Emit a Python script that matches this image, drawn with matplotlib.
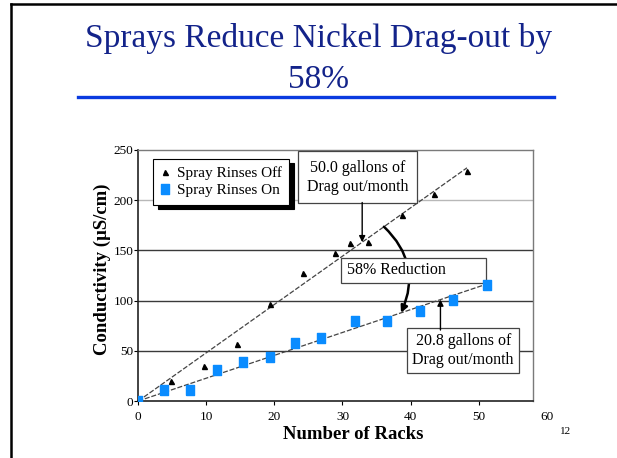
import numpy as np
import matplotlib
matplotlib.use('Agg')
import matplotlib.pyplot as plt
from matplotlib.lines import Line2D
from matplotlib.patches import Rectangle, FancyArrowPatch
import matplotlib.transforms as mtransforms

# ---------------- data ----------------
title_lines = ["Sprays Reduce Nickel Drag-out by", "58%"]
racks_off = [0, 4.8, 9.7, 14.5, 19.3, 24.2, 28.9, 31.1, 33.8, 38.7, 43.5, 48.3]
cond_off = [0, 20, 35, 57, 97, 127, 147, 157, 158, 185, 206, 229]
racks_on = [0, 3.8, 7.6, 11.5, 15.4, 19.3, 23.0, 26.9, 31.8, 36.6, 41.4, 46.2, 51.2]
cond_on = [0, 11, 11, 31, 39, 44, 58, 63, 80, 80, 90, 101, 116]
xticks = [0, 10, 20, 30, 40, 50]
extra_xtick = 60
yticks = [0, 50, 100, 150, 200, 250]
label_off = "Spray Rinses Off"
label_on = "Spray Rinses On"
note_off = "50.0 gallons of\nDrag out/month"
note_on = "20.8 gallons of\nDrag out/month"
note_red = "58% Reduction"
xlabel = "Number of Racks"
ylabel = "Conductivity (µS/cm)"
page_no = "12"

# ---------------- style ----------------
plt.rcParams['font.family'] = ['Liberation Serif', 'DejaVu Serif']
W, H = 617, 458
fig = plt.figure(figsize=(W / 100, H / 100), dpi=100)


def fx(px):
    return px / W


def fy(py):
    return 1 - py / H


# slide frame (left + top lines)
fig.add_artist(Line2D([fx(11), fx(11)], [0, fy(4)], transform=fig.transFigure,
                      color='black', lw=1.8))
fig.add_artist(Line2D([fx(11), 1], [fy(4), fy(4)], transform=fig.transFigure,
                      color='black', lw=1.8))

# title
title_color = '#13238a'
fig.text(fx(319), fy(47), title_lines[0], ha='center', va='baseline',
         fontsize=24, color=title_color)
fig.text(fx(319), fy(88), title_lines[1], ha='center', va='baseline',
         fontsize=24, color=title_color)
fig.add_artist(Line2D([fx(78), fx(554)], [fy(97), fy(97)], transform=fig.transFigure,
                      color='#0a3be0', lw=2.4))

# axes
ax = fig.add_axes([fx(138.3), fy(401), fx(533) - fx(138.3), fy(150) - fy(401)])
ax.set_xlim(0, 58)
ax.set_ylim(0, 250)
ax.set_xticks(xticks)
ax.set_yticks(yticks)
ax.tick_params(axis='both', direction='out', length=3, width=0.8, labelsize=9.5,
               colors='black')
ax.tick_params(axis='y', pad=0.5)
ax.tick_params(axis='x', pad=4)
for s in ['top', 'right']:
    ax.spines[s].set_color('#7a7a7a')
    ax.spines[s].set_linewidth(1.0)
for s in ['left', 'bottom']:
    ax.spines[s].set_color('#222222')
    ax.spines[s].set_linewidth(1.2)

# grid lines
for yv in yticks[1:-1]:
    col = '#b8b8b8' if yv == 200 else '#3a3a3a'
    ax.axhline(yv, color=col, lw=1.0, zorder=0.5)

# extra "60" tick label beyond frame
trans60 = mtransforms.blended_transform_factory(ax.transData, ax.transAxes) + \
    mtransforms.ScaledTranslation(0, -(3 + 4) / 72, fig.dpi_scale_trans)
ax.text(extra_xtick, 0, str(extra_xtick), transform=trans60, ha='center', va='top',
        fontsize=9.5, clip_on=False)

ax.set_xlabel(xlabel, fontsize=13.5, fontweight='bold')
ax.set_ylabel(ylabel, fontsize=13.5, fontweight='bold')
ax.xaxis.set_label_coords(0.544, -0.10)
ax.yaxis.set_label_coords(-0.068, 0.526)

# trendlines (least squares through origin)
xo = np.array(racks_off, dtype=float)
yo = np.array(cond_off, dtype=float)
xn = np.array(racks_on, dtype=float)
yn = np.array(cond_on, dtype=float)
k_off = np.dot(xo, yo) / np.dot(xo, xo)
k_on = np.dot(xn, yn) / np.dot(xn, xn)
lx_off = np.array([0, xo.max()])
lx_on = np.array([0, xn.max()])
ax.plot(lx_off, k_off * lx_off, color='#444444', lw=0.9, dashes=(4, 1.5), zorder=2)
ax.plot(lx_on, k_on * lx_on, color='#444444', lw=0.9, dashes=(4, 1.5), zorder=2)

# markers
blue = '#0a8cff'
rect_marker = [(-0.75, -1), (0.75, -1), (0.75, 1), (-0.75, 1), (-0.75, -1)]
ax.plot(racks_off, cond_off, linestyle='none', marker='^', color='black',
        markersize=3.6, label=label_off, zorder=6)
ax.plot(racks_on, cond_on, linestyle='none', marker=rect_marker, color=blue,
        markeredgecolor=blue, markersize=7, label=label_on, zorder=6)

# legend with hard black shadow
leg = ax.legend(loc='upper left', bbox_to_anchor=(0.037, 0.964), borderaxespad=0,
                frameon=True, fancybox=False, edgecolor='black', framealpha=1,
                shadow={'ox': 3.6, 'oy': -3.0, 'facecolor': 'black',
                        'edgecolor': 'black', 'alpha': 1},
                handlelength=0.6, handletextpad=0.45, borderpad=0.5,
                labelspacing=0.2, fontsize=11)
leg.get_frame().set_linewidth(0.8)
leg.set_zorder(10)

# annotation: 50.0 gallons
ax.text(32.2, 222.7, note_off, ha='center', va='center', fontsize=11.5,
        bbox=dict(boxstyle='square,pad=0.55', fc='white', ec='#444444', lw=0.9),
        zorder=7, linespacing=1.2)
x_a1 = 32.9
ax.annotate('', xy=(x_a1, k_off * x_a1), xytext=(x_a1, 197.7),
            arrowprops=dict(arrowstyle='-|>', color='black', lw=1.0,
                            mutation_scale=9, shrinkA=0, shrinkB=0), zorder=7)

# annotation: 20.8 gallons
ax.text(47.75, 50.2, note_on, ha='center', va='center', fontsize=11.5,
        bbox=dict(boxstyle='square,pad=0.33', fc='white', ec='#444444', lw=0.9),
        zorder=7, linespacing=1.2)
x_a2 = 44.4
ax.annotate('', xy=(x_a2, k_on * x_a2), xytext=(x_a2, 70.7),
            arrowprops=dict(arrowstyle='-|>', color='black', lw=1.0,
                            mutation_scale=9, shrinkA=0, shrinkB=0), zorder=7)

# 58% reduction arc + box
x_s, x_e = 36.1, 38.6
arc = FancyArrowPatch((x_s, k_off * x_s), (x_e, k_on * x_e),
                      connectionstyle='arc3,rad=-0.35', arrowstyle='-|>',
                      mutation_scale=10, lw=1.8, color='black',
                      shrinkA=0, shrinkB=0, zorder=3)
ax.add_patch(arc)
ax.add_patch(Rectangle((29.8, 117.7), 51.1 - 29.8, 142.7 - 117.7, fc='white',
                       ec='#444444', lw=0.9, zorder=4))
ax.text(30.7, 130.2, note_red, ha='left', va='center', fontsize=11.5, zorder=5)

# page number
fig.text(fx(566), fy(432), page_no, ha='center', va='center', fontsize=8)

fig.savefig('out.png', dpi=100)
